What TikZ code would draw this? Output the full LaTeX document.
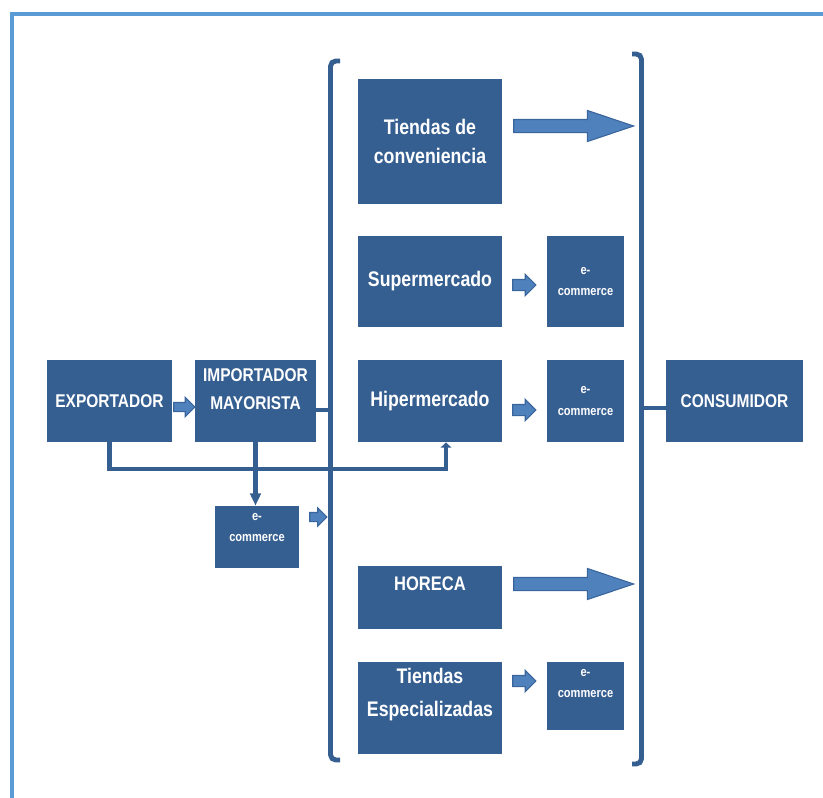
\documentclass[tikz,border=0pt]{standalone}
\usepackage{fontspec}
\setmainfont{Liberation Sans}
\newfontfamily\boxfont[FakeStretch=0.84]{Liberation Sans}
\usetikzlibrary{shapes.arrows,arrows.meta}
\definecolor{boxblue}{HTML}{365F91}
\definecolor{arrowblue}{HTML}{4F81BD}
\definecolor{arrowedge}{HTML}{3A659C}
\definecolor{frameblue}{HTML}{5B9BD5}

\begin{document}
\begin{tikzpicture}[x=0.02cm,y=-0.02cm]
			\useasboundingbox (0,0) rectangle (823,798);
			\draw[frameblue,line width=2.6pt] (12,798) -- (12,14) -- (823,14);
			
			\begin{scope}[every node/.style={rectangle,fill=boxblue,text=white,align=center,inner sep=0pt,font=\boxfont\bfseries\fontsize{12}{17}\selectfont}]
				\node[minimum width=2.5cm,minimum height=1.64cm,font=\boxfont\bfseries\fontsize{10.5}{17}\selectfont] (exp) at (109.5,401) {EXPORTADOR};
				\node[minimum width=2.42cm,minimum height=1.64cm,text depth=0.48cm,font=\boxfont\bfseries\fontsize{10.5}{16}\selectfont] (imp) at (255.5,401) {IMPORTADOR\\MAYORISTA};
				\node[minimum width=2.88cm,minimum height=2.5cm] (conv) at (430,141.5) {Tiendas de\\conveniencia};
				\node[minimum width=2.88cm,minimum height=1.82cm] (sup) at (430,281.5) {Supermercado};
				\node[minimum width=2.88cm,minimum height=1.64cm] (hip) at (430,401) {Hipermercado};
				\node[minimum width=2.88cm,minimum height=1.26cm,text depth=0.54cm,font=\boxfont\bfseries\fontsize{11.2}{17}\selectfont] (horeca) at (430,597.5) {HORECA};
				\node[minimum width=2.88cm,minimum height=1.84cm,text depth=0.62cm,font=\boxfont\bfseries\fontsize{12}{19}\selectfont] (esp) at (430,708) {Tiendas\\Especializadas};
				\node[minimum width=2.74cm,minimum height=1.64cm,font=\boxfont\bfseries\fontsize{10.5}{17}\selectfont] (cons) at (734.5,401) {CONSUMIDOR};
			\end{scope}
			
			\begin{scope}[every node/.style={rectangle,fill=boxblue,text=white,align=center,inner sep=0pt,font=\boxfont\bfseries\fontsize{7.5}{12}\selectfont}]
				\node[minimum width=1.68cm,minimum height=1.24cm,text depth=0.4cm] (ecImp) at (257,537) {e-\\commerce};
				\node[minimum width=1.54cm,minimum height=1.82cm] (ecSup) at (585.5,281.5) {e-\\commerce};
				\node[minimum width=1.54cm,minimum height=1.64cm] (ecHip) at (585.5,401) {e-\\commerce};
				\node[minimum width=1.54cm,minimum height=1.36cm,text depth=0.52cm] (ecEsp) at (585.5,696) {e-\\commerce};
			\end{scope}
			
			% block arrows
			\begin{scope}[every node/.style={single arrow,fill=arrowblue,draw=arrowedge,line width=0.6pt,inner sep=0pt,minimum width=0pt}]
				\node[minimum height=2.4cm,inner ysep=0.12cm,single arrow head extend=0.18cm,single arrow tip angle=37] (arConv) at (564,126) {};
				\node[minimum height=2.4cm,inner ysep=0.12cm,single arrow head extend=0.18cm,single arrow tip angle=37] (arHoreca) at (564,584) {};
				\node[minimum height=0.42cm,inner ysep=0.08cm,single arrow head extend=0.1cm] (arExp) at (182,407) {};
				\node[minimum height=0.34cm,inner ysep=0.08cm,single arrow head extend=0.09cm] (arEcImp) at (316,517) {};
				\node[minimum height=0.46cm,inner ysep=0.1cm,single arrow head extend=0.1cm] (arSup) at (521.5,285) {};
				\node[minimum height=0.46cm,inner ysep=0.1cm,single arrow head extend=0.1cm] (arHip) at (521.5,410) {};
				\node[minimum height=0.46cm,inner ysep=0.1cm,single arrow head extend=0.1cm] (arEsp) at (521.5,681) {};
			\end{scope}
			
			% brackets and connectors
			\begin{scope}[boxblue,line width=2.8pt]
				\coordinate (lbr) at (330.5,410);
				\coordinate (rbr) at (641.5,408);
				\coordinate (jn) at (446,469);
				\draw[rounded corners=3pt] (340,61) -- (330.5,61) -- (330.5,760) -- (340,760);
				\draw[rounded corners=3pt] (632,54) -- (641.5,54) -- (641.5,764) -- (632,764);
				\draw (imp.east |- lbr) -- (lbr);
				\draw (rbr) -- (rbr -| cons.west);
				\draw[-{Triangle[length=3pt,width=6pt]}] (exp.south) |- (jn) -- (jn |- hip.south);
				\draw[-{Triangle[length=7pt,width=6pt]}] (imp.south) -- (imp.south |- ecImp.north);
			\end{scope}
		\end{tikzpicture}
\end{document}
